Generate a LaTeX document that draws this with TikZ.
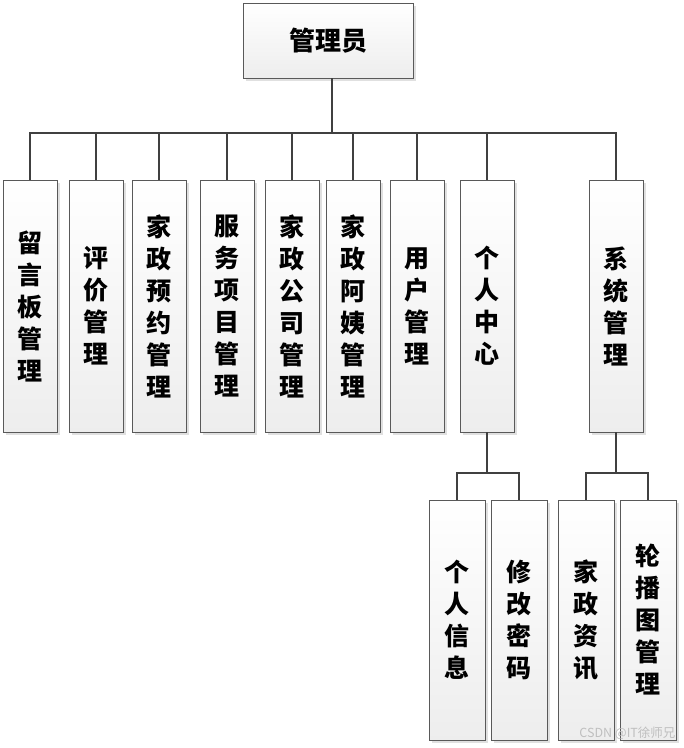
\documentclass[tikz,border=0pt]{standalone}
\usepackage{fontspec}
\newfontfamily\cjk{Noto Sans CJK SC}
\usetikzlibrary{shadows}
\tikzset{
    box/.style={draw=black!65, line width=0.9pt, top color=white, bottom color=black!7,
        drop shadow={shadow xshift=3pt, shadow yshift=-3pt, fill=black!12, opacity=1},
        align=center, inner sep=0pt, font=\cjk\bfseries\fontsize{25}{32}\selectfont},
    modbox/.style={box, minimum width=54pt, minimum height=252pt},
    subbox/.style={box, minimum width=56pt, minimum height=240pt},
    link/.style={draw=black!75, line width=1.6pt}
}
\begin{document}
\begin{tikzpicture}[x=1pt, y=1pt]
    \useasboundingbox (0,0) rectangle (684,748);
    \node[box, minimum width=170pt, minimum height=75pt, font=\cjk\bfseries\fontsize{26}{32}\selectfont] (admin) at (328, 707.5) {管理员};
    % first level
    \node[modbox] (m1) at (30, 442) {留\\言\\板\\管\\理};
    \node[modbox] (m2) at (96, 442) {评\\价\\管\\理};
    \node[modbox] (m3) at (159, 442) {家\\政\\预\\约\\管\\理};
    \node[modbox] (m4) at (227, 442) {服\\务\\项\\目\\管\\理};
    \node[modbox] (m5) at (292, 442) {家\\政\\公\\司\\管\\理};
    \node[modbox] (m6) at (353, 442) {家\\政\\阿\\姨\\管\\理};
    \node[modbox] (m7) at (417, 442) {用\\户\\管\\理};
    \node[modbox] (m8) at (487, 442) {个\\人\\中\\心};
    \node[modbox] (m9) at (616, 442) {系\\统\\管\\理};
    % second level
    \node[subbox] (s1) at (457, 128) {个\\人\\信\\息};
    \node[subbox] (s2) at (519, 128) {修\\改\\密\\码};
    \node[subbox] (s3) at (586, 128) {家\\政\\资\\讯};
    \node[subbox] (s4) at (648, 128) {轮\\播\\图\\管\\理};
    % buses
    \coordinate (stem) at ([xshift=4pt]admin.south);
    \coordinate (bus) at (0, 615);
    \coordinate (subbus) at (0, 275);
    \foreach \m in {m1, m2, m3, m4, m5, m6, m7, m8, m9}
        \draw[link] (stem) -- (stem |- bus) -| (\m.north);
    \foreach \s in {s1, s2}
        \draw[link] (m8.south) -- (m8.south |- subbus) -| (\s.north);
    \foreach \s in {s3, s4}
        \draw[link] (m9.south) -- (m9.south |- subbus) -| (\s.north);
    \node[anchor=east, text=black!25, font=\cjk\fontsize{12.5}{14}\selectfont] (mark) at (679, 15) {CSDN @IT徐师兄};
\end{tikzpicture}
\end{document}
